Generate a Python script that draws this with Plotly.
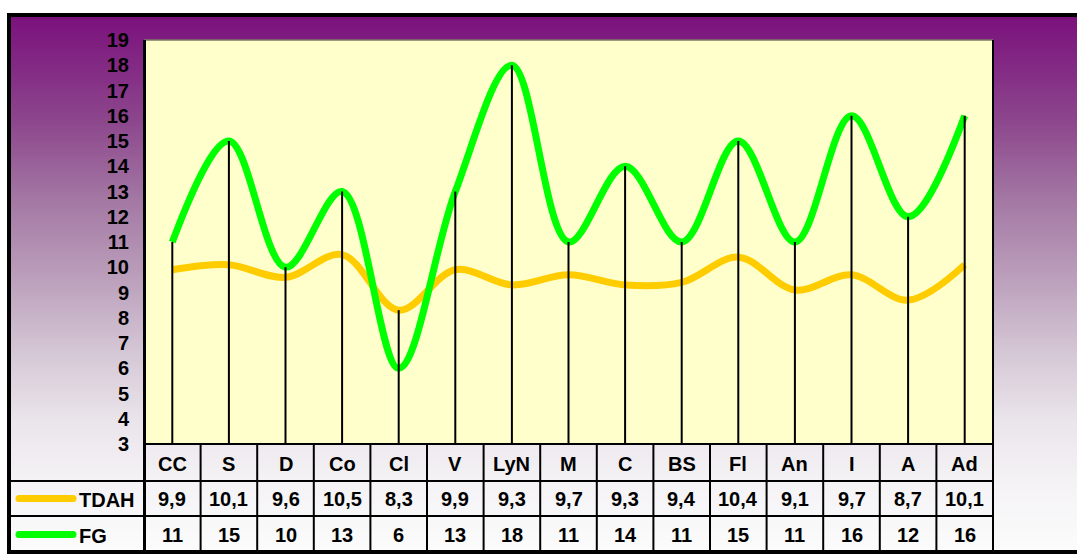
import plotly.graph_objects as go

# Categories and series values
categories = ["CC", "S", "D", "Co", "Cl", "V", "LyN", "M", "C", "BS", "Fl", "An", "I", "A", "Ad"]
tdah = [9.9, 10.1, 9.6, 10.5, 8.3, 9.9, 9.3, 9.7, 9.3, 9.4, 10.4, 9.1, 9.7, 8.7, 10.1]
fg = [11, 15, 10, 13, 6, 13, 18, 11, 14, 11, 15, 11, 16, 12, 16]
y_ticks = list(range(3, 20))

W, H = 1077, 554
L, R, T, B = 144, 84, 40, 110
PW, PH = W - L - R, H - T - B

ORANGE = "#ffcc00"
GREEN = "#00ff00"
FONT = "Liberation Sans, Arial, sans-serif"


def px(x):
    return (x - L) / PW


def py(y):
    return (T + PH - y) / PH


def lerp(stops, y):
    for (y0, c0), (y1, c1) in zip(stops, stops[1:]):
        if y0 <= y <= y1:
            t = (y - y0) / (y1 - y0)
            return tuple(round(a + (b - a) * t) for a, b in zip(c0, c1))
    return stops[-1][1]


shapes = []

# vertical purple-to-white backdrop inside the frame
grad = [
    (15, (122, 16, 124)),
    (120, (140, 70, 140)),
    (200, (163, 120, 163)),
    (280, (188, 160, 188)),
    (350, (212, 198, 212)),
    (420, (234, 228, 235)),
    (480, (244, 242, 245)),
    (552, (252, 252, 252)),
]
step = 2
for y in range(15, 552, step):
    c = lerp(grad, y + step / 2)
    shapes.append(dict(type="rect", xref="paper", yref="paper", layer="below",
                       x0=px(9), x1=px(W + 10), y0=py(y), y1=py(y + step + 0.6),
                       line=dict(width=0), fillcolor="rgb(%d,%d,%d)" % c))

# plot area fill
shapes.append(dict(type="rect", xref="paper", yref="paper", layer="below",
                   x0=0, x1=1, y0=0, y1=1, line=dict(width=0), fillcolor="#ffffcc"))

# outer frame
shapes.append(dict(type="rect", xref="paper", yref="paper",
                   x0=px(9), x1=px(W + 20), y0=py(15), y1=py(552),
                   line=dict(color="black", width=4)))

# plot area borders
shapes.append(dict(type="line", xref="paper", yref="paper", x0=0, x1=1, y0=1, y1=1,
                   line=dict(color="#7a7a66", width=1.5)))
shapes.append(dict(type="line", xref="paper", yref="paper", x0=1, x1=1, y0=0, y1=1,
                   line=dict(color="black", width=2)))
shapes.append(dict(type="line", xref="paper", yref="paper", x0=px(144.5), x1=px(144.5),
                   y0=py(552), y1=1, line=dict(color="black", width=3)))

# data table grid
col_w = PW / len(categories)
shapes.append(dict(type="line", xref="paper", yref="paper", x0=0, x1=1, y0=0, y1=0,
                   line=dict(color="black", width=2)))
for yl in (481, 516):
    shapes.append(dict(type="line", xref="paper", yref="paper", x0=px(9), x1=1,
                       y0=py(yl), y1=py(yl), line=dict(color="black", width=2)))
for k in range(1, len(categories) + 1):
    xx = L + k * col_w
    shapes.append(dict(type="line", xref="paper", yref="paper", x0=px(xx), x1=px(xx),
                       y0=0, y1=py(552), line=dict(color="black", width=2)))

# legend keys in the table rows
for color, yc in ((ORANGE, 498.5), (GREEN, 534.5)):
    r = 3.5
    shapes.append(dict(type="rect", xref="paper", yref="paper", x0=px(19), x1=px(73),
                       y0=py(yc + r), y1=py(yc - r), line=dict(width=0), fillcolor=color))
    for cx in (19, 73):
        shapes.append(dict(type="circle", xref="paper", yref="paper",
                           x0=px(cx - r), x1=px(cx + r), y0=py(yc + r), y1=py(yc - r),
                           line=dict(width=0), fillcolor=color))

annotations = []
tfont = dict(family=FONT, size=20, color="black", weight="bold")
for i, c in enumerate(categories):
    annotations.append(dict(x=i, xref="x", y=py(463.5), yref="paper", text=c,
                            showarrow=False, font=tfont, xanchor="center", yanchor="middle"))
    annotations.append(dict(x=i, xref="x", y=py(499), yref="paper",
                            text=("%.1f" % tdah[i]).replace(".", ","),
                            showarrow=False, font=tfont, xanchor="center", yanchor="middle"))
    annotations.append(dict(x=i, xref="x", y=py(534.5), yref="paper", text=str(fg[i]),
                            showarrow=False, font=tfont, xanchor="center", yanchor="middle"))
annotations.append(dict(x=px(77), xref="paper", y=py(500), yref="paper", text="TDAH",
                        showarrow=False, font=tfont, xanchor="left", yanchor="middle"))
annotations.append(dict(x=px(77), xref="paper", y=py(536), yref="paper", text="FG",
                        showarrow=False, font=tfont, xanchor="left", yanchor="middle"))

xs = list(range(len(categories)))

# drop lines from the axis floor to the higher of the two series
drop_x, drop_y = [], []
for i in xs:
    drop_x += [i, i, None]
    drop_y += [3, max(tdah[i], fg[i]), None]

fig = go.Figure()
fig.add_trace(go.Scatter(x=xs, y=tdah, mode="lines", name="TDAH",
                         line=dict(color=ORANGE, width=7, shape="spline", smoothing=1)))
fig.add_trace(go.Scatter(x=xs, y=fg, mode="lines", name="FG",
                         line=dict(color=GREEN, width=7, shape="spline", smoothing=1)))
fig.add_trace(go.Scatter(x=drop_x, y=drop_y, mode="lines", showlegend=False,
                         line=dict(color="black", width=2)))

fig.update_layout(
    width=W, height=H,
    margin=dict(l=L, r=R, t=T, b=B, pad=0),
    paper_bgcolor="white",
    plot_bgcolor="rgba(0,0,0,0)",
    showlegend=False,
    shapes=shapes,
    annotations=annotations,
    xaxis=dict(range=[-0.5, len(categories) - 0.5], showticklabels=False, showgrid=False,
               zeroline=False, showline=False, ticks=""),
    yaxis=dict(range=[3, 19], tickvals=y_ticks, ticktext=[str(v) for v in y_ticks],
               showgrid=False, zeroline=False, showline=False, ticks="",
               ticklabelstandoff=14, tickfont=tfont),
)

fig.write_html("out.html")
